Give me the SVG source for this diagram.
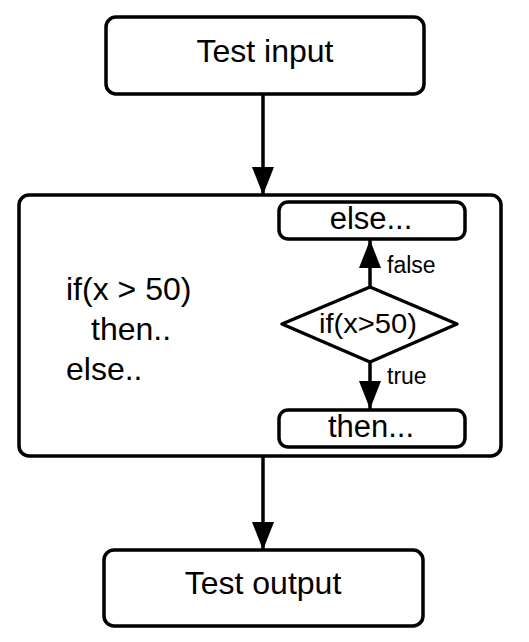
<svg xmlns="http://www.w3.org/2000/svg" width="529" height="642" viewBox="0 0 529 642">
<style>
.box{fill:#fff;stroke:#000;stroke-width:3.5}
.line{fill:none;stroke:#000;stroke-width:3.5}
text{font-family:"Liberation Sans",Arial,sans-serif;fill:#000}
.big{font-size:32px}
.mid{font-size:31px}
.lbl{font-size:23px}
</style>
<defs>
<marker id="arr" markerUnits="userSpaceOnUse" markerWidth="28" markerHeight="22" refX="28" refY="11" viewBox="0 0 28 22" orient="auto">
<path d="M0,0 L28,11 L0,22 Z" fill="#000"/>
</marker>
</defs>
<g id="test-input">
<rect class="box" x="106" y="17" width="318" height="77" rx="10"/>
<text class="big" x="265" y="62" text-anchor="middle">Test input</text>
</g>
<g id="program">
<rect class="box" x="19" y="195" width="482" height="261" rx="10"/>
<text class="big" x="66" y="300">if(x &gt; 50)</text>
<text class="big" x="91" y="340">then..</text>
<text class="big" x="66" y="380">else..</text>
</g>
<g id="else-box">
<rect class="box" x="279" y="202" width="186" height="37" rx="9"/>
<text class="mid" x="371" y="229" text-anchor="middle">else...</text>
</g>
<g id="decision">
<path class="box" d="M370,287 L457,324 L370,362 L282,324 Z" stroke-linejoin="round"/>
<text x="319" y="333" font-size="28" textLength="98" lengthAdjust="spacingAndGlyphs">if(x&gt;50)</text>
</g>
<g id="then-box">
<rect class="box" x="279" y="410" width="186" height="37" rx="9"/>
<text class="mid" x="371" y="437" text-anchor="middle">then...</text>
</g>
<g id="test-output">
<rect class="box" x="104" y="550" width="319" height="76" rx="10"/>
<text class="big" x="263" y="594" text-anchor="middle">Test output</text>
</g>
<g id="connectors">
<line class="line" x1="263" y1="94" x2="263" y2="195" marker-end="url(#arr)"/>
<line class="line" x1="263" y1="456" x2="263" y2="550" marker-end="url(#arr)"/>
<line class="line" x1="370" y1="287" x2="370" y2="240" marker-end="url(#arr)"/>
<line class="line" x1="370" y1="362" x2="370" y2="409" marker-end="url(#arr)"/>
<text class="lbl" x="387" y="273">false</text>
<text class="lbl" x="387" y="384">true</text>
</g>
</svg>
